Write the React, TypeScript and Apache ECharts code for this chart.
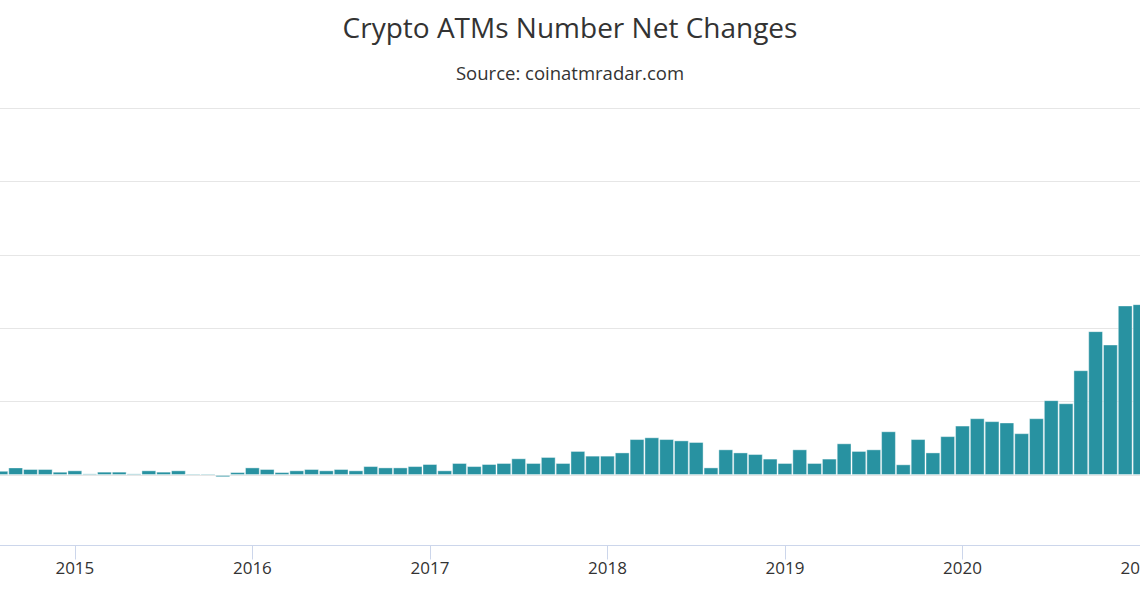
import React, { useEffect, useRef } from "react";
import * as echarts from "echarts";

const months: string[] = [
  "2014-08", "2014-09", "2014-10", "2014-11", "2014-12",
  "2015-01", "2015-02", "2015-03", "2015-04", "2015-05", "2015-06", "2015-07", "2015-08", "2015-09", "2015-10", "2015-11", "2015-12",
  "2016-01", "2016-02", "2016-03", "2016-04", "2016-05", "2016-06", "2016-07", "2016-08", "2016-09", "2016-10", "2016-11", "2016-12",
  "2017-01", "2017-02", "2017-03", "2017-04", "2017-05", "2017-06", "2017-07", "2017-08", "2017-09", "2017-10", "2017-11", "2017-12",
  "2018-01", "2018-02", "2018-03", "2018-04", "2018-05", "2018-06", "2018-07", "2018-08", "2018-09", "2018-10", "2018-11", "2018-12",
  "2019-01", "2019-02", "2019-03", "2019-04", "2019-05", "2019-06", "2019-07", "2019-08", "2019-09", "2019-10", "2019-11", "2019-12",
  "2020-01", "2020-02", "2020-03", "2020-04", "2020-05", "2020-06", "2020-07", "2020-08", "2020-09", "2020-10", "2020-11", "2020-12",
  "2021-01",
];

const netChanges: number[] = [
  29, 52, 41, 41, 23,
  32, 11, 23, 23, 11, 32, 23, 32, 10, 10, -15, 20,
  52, 41, 20, 32, 41, 32, 41, 32, 61, 52, 52, 61,
  75, 32, 82, 61, 75, 82, 114, 82, 123, 82, 164, 132,
  132, 154, 245, 257, 245, 236, 225, 52, 175, 154, 143, 112,
  82, 175, 82, 112, 216, 164, 175, 298, 73, 245, 154, 265,
  337, 387, 367, 358, 285, 387, 510, 489, 714, 980, 889, 1155,
  1164,
];

const titleText = "Crypto ATMs Number Net Changes";
const subtitleText = "Source: coinatmradar.com";

const FONT = "'Open Sans', 'Noto Sans', sans-serif";

export default function App() {
  const ref = useRef<HTMLDivElement>(null);

  useEffect(() => {
    if (!ref.current) return;
    const chart = echarts.init(ref.current, undefined, { renderer: "svg" });
    // indices of January months, where the year ticks/labels sit
    const janIdx: number[] = months
      .map((m, i) => (m.endsWith("-01") ? i : -1))
      .filter((i) => i >= 0);
    const barData = netChanges.map((v, i) => [i, v]);
    chart.setOption({
      animation: false,
      backgroundColor: "#ffffff",
      title: [
        {
          text: titleText,
          left: "center",
          top: 8,
          textStyle: { fontFamily: FONT, fontSize: 28, fontWeight: "normal", color: "#333333" },
        },
        {
          text: subtitleText,
          left: "center",
          top: 58,
          textStyle: { fontFamily: FONT, fontSize: 18.5, fontWeight: "normal", color: "#333333" },
        },
      ],
      grid: {
        left: 0,
        right: 0,
        top: 108,
        bottom: 49.5,
        containLabel: false,
        outerBoundsMode: "none",
      },
      xAxis: {
        type: "value",
        min: -0.06,
        max: 77.0,
        axisLine: { onZero: false, lineStyle: { color: "#ccd6eb", width: 1 } },
        axisTick: { customValues: janIdx, length: 14, lineStyle: { color: "#ccd6eb" } },
        axisLabel: {
          customValues: janIdx,
          formatter: (v: number) => (months[Math.round(v)] || "").slice(0, 4),
          color: "#333333",
          fontFamily: FONT,
          fontSize: 17,
          margin: 13,
          showMinLabel: true,
          showMaxLabel: true,
          hideOverlap: false,
        },
        splitLine: { show: false },
      },
      yAxis: {
        type: "value",
        min: -480,
        max: 2500,
        splitNumber: 6,
        axisLine: { show: false },
        axisTick: { show: false },
        axisLabel: { show: false },
        splitLine: { lineStyle: { color: "#e6e6e6", width: 1 } },
      },
      series: [
        {
          type: "bar",
          data: barData,
          barWidth: 14.8,
          clip: true,
          itemStyle: {
            color: "#2892a1",
            borderColor: "rgba(255,255,255,0.4)",
            borderWidth: 1,
          },
        },
      ],
    });
    return () => chart.dispose();
  }, []);

  return (
    <div
      ref={ref}
      style={{ position: "fixed", left: 0, top: 0, width: 1140, height: 595 }}
    />
  );
}
